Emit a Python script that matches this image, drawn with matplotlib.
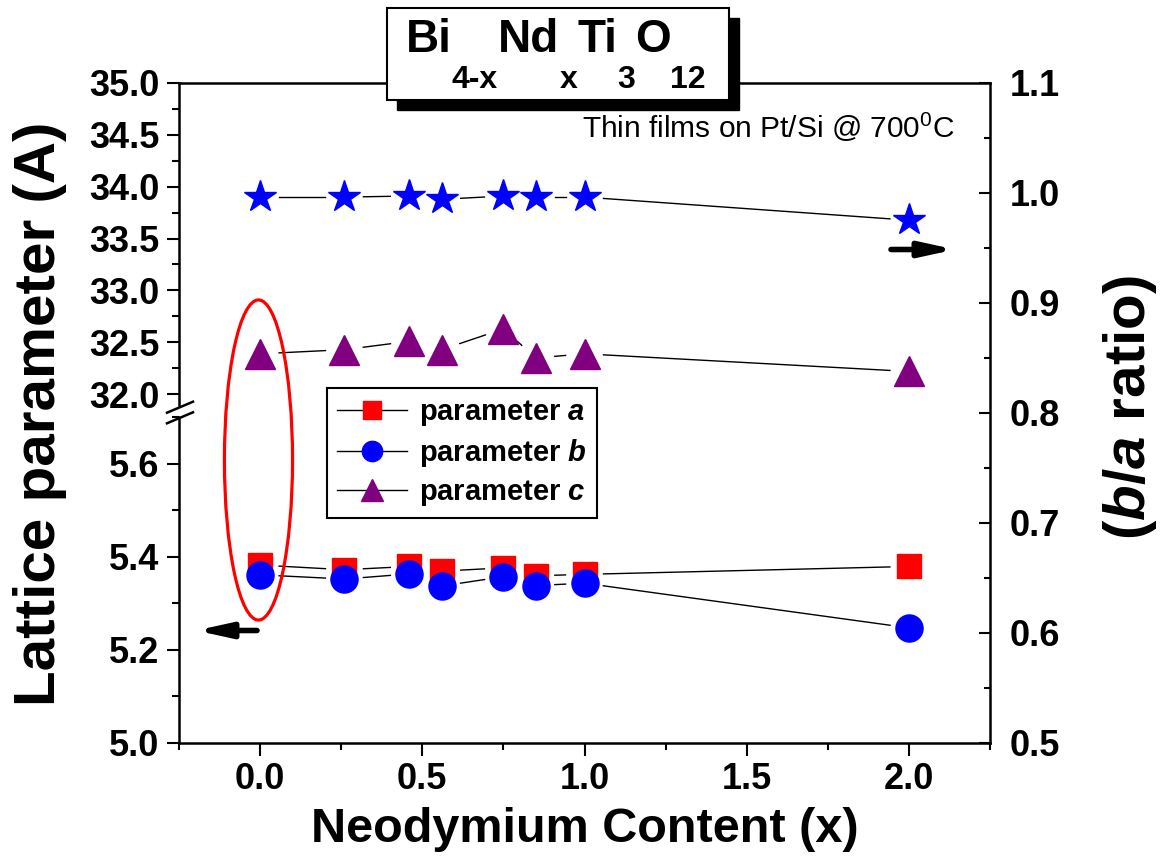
import matplotlib
matplotlib.use("Agg")
import numpy as np
import matplotlib.pyplot as plt
from matplotlib.patches import Rectangle, Ellipse
from matplotlib.transforms import IdentityTransform
from matplotlib.ticker import MultipleLocator, FormatStrFormatter

plt.rcParams['font.family'] = ['Liberation Sans', 'DejaVu Sans']
plt.rcParams['font.weight'] = 'bold'
plt.rcParams['mathtext.fontset'] = 'custom'
plt.rcParams['mathtext.rm'] = 'Liberation Sans:normal'
plt.rcParams['mathtext.it'] = 'Liberation Sans:italic:normal'
plt.rcParams['mathtext.bf'] = 'Liberation Sans:bold'
plt.rcParams['mathtext.bfit'] = 'Liberation Sans:italic:bold'

# data
nd = [0.0, 0.26, 0.46, 0.56, 0.75, 0.85, 1.0, 2.0]
param_a = [5.382, 5.372, 5.379, 5.369, 5.376, 5.359, 5.362, 5.379]
param_b = [5.361, 5.352, 5.363, 5.337, 5.357, 5.338, 5.343, 5.247]
param_c = [32.39, 32.43, 32.51, 32.43, 32.63, 32.35, 32.39, 32.22]
ba_ratio = [0.996, 0.996, 0.997, 0.994, 0.997, 0.996, 0.996, 0.975]

W, H = 1170, 867
fig = plt.figure(figsize=(W / 100, H / 100), dpi=100)

left, right = 179 / W, 990 / W
top, bottom = 1 - 82.7 / H, 1 - 742.7 / H
top_low = 1 - 404.7 / H     # bottom of upper panel
bot_high = 1 - 417.2 / H    # top of lower panel

ax_top = fig.add_axes([left, top_low, right - left, top - top_low])
ax_bot = fig.add_axes([left, bottom, right - left, bot_high - bottom])
ax_r = fig.add_axes([left, bottom, right - left, top - bottom])
ax_r.patch.set_alpha(0)

xlim = (-0.25, 2.25)
for ax in (ax_top, ax_bot, ax_r):
    ax.set_xlim(*xlim)
    for s in ax.spines.values():
        s.set_linewidth(1.8)

ax_top.set_ylim(31.9, 35.0)
ax_bot.set_ylim(5.0, 5.7)
ax_r.set_ylim(0.5, 1.1)


def gapped_line(ax, xs, ys, gap=19):
    # connecting line that stops short of each marker, Origin style
    pts = ax.transData.transform(np.column_stack([xs, ys]))
    inv = ax.transData.inverted()
    for p, q in zip(pts[:-1], pts[1:]):
        d = q - p
        dist = np.hypot(*d)
        if dist <= 2 * gap + 2:
            continue
        u = d / dist
        a, b = inv.transform([p + u * gap, q - u * gap])
        ax.plot([a[0], b[0]], [a[1], b[1]], color='k', lw=1.0, zorder=2)


for ax, ys in ((ax_top, param_c), (ax_bot, param_a), (ax_bot, param_b), (ax_r, ba_ratio)):
    gapped_line(ax, nd, ys)

ax_top.plot(nd, param_c, ls='none', marker='^', ms=21, mfc='purple', mec='purple', zorder=3)
ax_bot.plot(nd, param_a, ls='none', marker='s', ms=17, mfc='red', mec='red', zorder=3)
ax_bot.plot(nd, param_b, ls='none', marker='o', ms=19.5, mfc='blue', mec='blue', zorder=3)
ax_r.plot(nd, ba_ratio, ls='none', marker='*', ms=24, mfc='blue', mec='blue', zorder=3)

# legend handles
la = plt.Line2D([], [], color='k', lw=1.0, marker='s', ms=17, mfc='red', mec='red')
lb = plt.Line2D([], [], color='k', lw=1.0, marker='o', ms=19.5, mfc='blue', mec='blue')
lc = plt.Line2D([], [], color='k', lw=1.0, marker='^', ms=21, mfc='purple', mec='purple')

tick_lab = 26
# upper left panel
ax_top.spines['bottom'].set_visible(False)
ax_top.spines['right'].set_visible(False)
ax_top.yaxis.set_major_locator(MultipleLocator(0.5))
ax_top.yaxis.set_minor_locator(MultipleLocator(0.25))
ax_top.yaxis.set_major_formatter(FormatStrFormatter('%.1f'))
ax_top.tick_params(axis='x', which='both', bottom=False, labelbottom=False)
ax_top.tick_params(axis='y', which='major', direction='out', length=9, width=1.5,
                   labelsize=tick_lab, pad=5)
ax_top.tick_params(axis='y', which='minor', direction='out', length=5, width=1.5)

# lower left panel
ax_bot.spines['top'].set_visible(False)
ax_bot.spines['right'].set_visible(False)
ax_bot.yaxis.set_major_locator(MultipleLocator(0.2))
ax_bot.yaxis.set_minor_locator(MultipleLocator(0.1))
ax_bot.yaxis.set_major_formatter(FormatStrFormatter('%.1f'))
ax_bot.xaxis.set_major_locator(MultipleLocator(0.5))
ax_bot.xaxis.set_minor_locator(MultipleLocator(0.25))
ax_bot.xaxis.set_major_formatter(FormatStrFormatter('%.1f'))
ax_bot.tick_params(which='major', direction='out', length=9, width=1.5,
                   labelsize=tick_lab, pad=5)
ax_bot.tick_params(which='minor', direction='out', length=5, width=1.5)

# right axis
for side in ('left', 'top', 'bottom'):
    ax_r.spines[side].set_visible(False)
ax_r.xaxis.set_visible(False)
ax_r.yaxis.tick_right()
ax_r.yaxis.set_major_locator(MultipleLocator(0.1))
ax_r.yaxis.set_minor_locator(MultipleLocator(0.05))
ax_r.yaxis.set_major_formatter(FormatStrFormatter('%.1f'))
ax_r.tick_params(axis='y', which='major', direction='in', length=8, width=1.5,
                 labelsize=tick_lab, pad=14)
ax_r.tick_params(axis='y', which='minor', direction='in', length=4, width=1.5)

# axis break marks on the left spine
for yb in (412.7, 423.3):
    fig.add_artist(plt.Line2D([167, 193], [H - yb, H - yb + 11], transform=IdentityTransform(),
                              color='k', lw=1.8, zorder=6))

# red ellipse around x = 0
ax_r.add_patch(Ellipse((-0.005, 0.757), 0.21, 0.291, fill=False, ec='red', lw=2.3,
                       clip_on=False, zorder=5))

# arrows
arrow_kw = dict(arrowstyle='-|>,head_length=1.0,head_width=0.22', color='k', lw=4,
                shrinkA=0, shrinkB=0, mutation_scale=20)
fig.add_artist(plt.Annotation('', xy=(955, H - 249.5), xytext=(891, H - 249.5),
                              xycoords='figure pixels', textcoords='figure pixels',
                              arrowprops=arrow_kw))
fig.add_artist(plt.Annotation('', xy=(196, H - 630.5), xytext=(257, H - 630.5),
                              xycoords='figure pixels', textcoords='figure pixels',
                              arrowprops=arrow_kw))

# axis titles
fig.text(40 / W, 1 - 414 / H, 'Lattice parameter (A)', rotation=90, ha='center',
         va='center', fontsize=42, fontweight='bold')
fig.text(1130 / W, 1 - 408 / H, r'($\mathbfit{b}$/$\mathbfit{a}$ ratio)', rotation=90,
         ha='center', va='center', fontsize=42, fontweight='bold')
fig.text(585 / W, 1 - 830 / H, 'Neodymium Content (x)', ha='center', va='center',
         fontsize=35, fontweight='bold')

fig.text(955 / W, 1 - 138 / H, r'Thin films on Pt/Si @ 700$^{\mathrm{0}}$C', ha='right',
         va='baseline', fontsize=21.5, fontweight='normal')

# legend
leg = fig.legend([la, lb, lc], [r'parameter $\mathbfit{a}$', r'parameter $\mathbfit{b}$',
                                r'parameter $\mathbfit{c}$'],
                 loc='upper left', bbox_to_anchor=(327 / W, 1 - 388 / H), fontsize=21,
                 markerscale=0.75, handlelength=2.4, handletextpad=0.4, labelspacing=0.3,
                 borderpad=0.35, borderaxespad=0, fancybox=False, framealpha=1, edgecolor='k')
leg.get_frame().set_linewidth(1.5)

# title box with shadow
fig.add_artist(Rectangle((397, H - 110), 342, 92, transform=IdentityTransform(),
                         fc='k', ec='k', zorder=7))
fig.add_artist(Rectangle((387, H - 100), 342, 92, transform=IdentityTransform(),
                         fc='white', ec='k', lw=1.5, zorder=8))

parts = [('Bi', False), ('4-x', True), ('Nd', False), ('x', True),
         ('Ti', False), ('3', True), ('O', False), ('12', True)]
renderer = fig.canvas.get_renderer()
pieces = []
for s, sub in parts:
    t = fig.text(0, 0, s, transform=IdentityTransform(), fontsize=23 if sub else 33,
                 fontweight='bold', va='baseline', ha='left', zorder=9)
    pieces.append((t, sub, t.get_window_extent(renderer).width))
total = sum(p[2] for p in pieces)
x = 556 - total / 2
for t, sub, w in pieces:
    t.set_position((x, H - 88 if sub else H - 52))
    x += w

fig.savefig('out.png', dpi=100)
